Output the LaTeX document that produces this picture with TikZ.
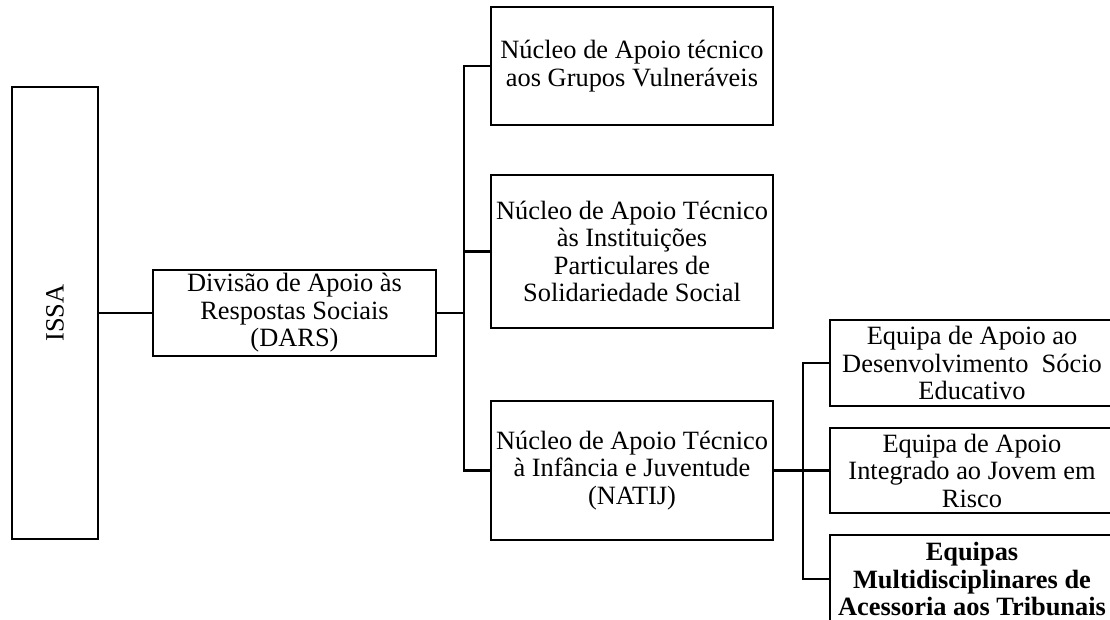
\documentclass[tikz,border=0pt]{standalone}
\usepackage{fontspec}
\setmainfont{Liberation Serif}
\begin{document}
\begin{tikzpicture}[x=0.75pt,y=-0.75pt,
  box/.style={draw,line width=1.9pt,inner sep=0pt,align=center,
    font=\fontsize{19.8pt}{20.6pt}\selectfont},
  link/.style={line width=1.9pt}]
\path[use as bounding box,clip] (0,0) rectangle (1110,619);
% nodes
\node[box,minimum width={86*0.75pt},minimum height={452*0.75pt}] (issa) at (55,313) {\rotatebox{90}{ISSA}};
\node[box,minimum width={283*0.75pt},minimum height={86*0.75pt}] (dars) at (294.5,313)
  {Divisão de Apoio às\\Respostas Sociais\\(DARS)};
\node[box,minimum width={282*0.75pt},minimum height={118*0.75pt}] (b1) at (632,66)
  {Núcleo de Apoio técnico\\aos Grupos Vulneráveis};
\node[box,minimum width={282*0.75pt},minimum height={153*0.75pt}] (b2) at (632,251.5)
  {Núcleo de Apoio Técnico\\às Instituições\\Particulares de\\Solidariedade Social};
\node[box,minimum width={282*0.75pt},minimum height={139*0.75pt}] (natij) at (632,470.5)
  {Núcleo de Apoio Técnico\\à Infância e Juventude\\(NATIJ)};
\node[box,minimum width={284*0.75pt},minimum height={86*0.75pt}] (e1) at (972,363)
  {Equipa de Apoio ao\\Desenvolvimento\ \ Sócio\\Educativo};
\node[box,minimum width={284*0.75pt},minimum height={85*0.75pt}] (e2) at (972,470.5)
  {Equipa de Apoio\\Integrado ao Jovem em\\Risco};
\node[box,minimum width={284*0.75pt},minimum height={88*0.75pt}] (e3) at (972,579)
  {\bfseries Equipas\\\bfseries Multidisciplinares de\\\bfseries Acessoria aos Tribunais};
% junctions
\coordinate (j1) at (464,313);
\coordinate (j2) at (803,470.5);
% connectors
\draw[link] (issa.east) -- (dars.west);
\draw[link] (dars.east) -- (j1);
\draw[link] (b1.west) -| (j1) |- (natij.west);
\draw[link] (j1) |- (b2.west);
\draw[link] (natij.east) -- (j2);
\draw[link] (e1.west) -| (j2) |- (e3.west);
\draw[link] (j2) -- (e2.west);
\end{tikzpicture}
\end{document}
